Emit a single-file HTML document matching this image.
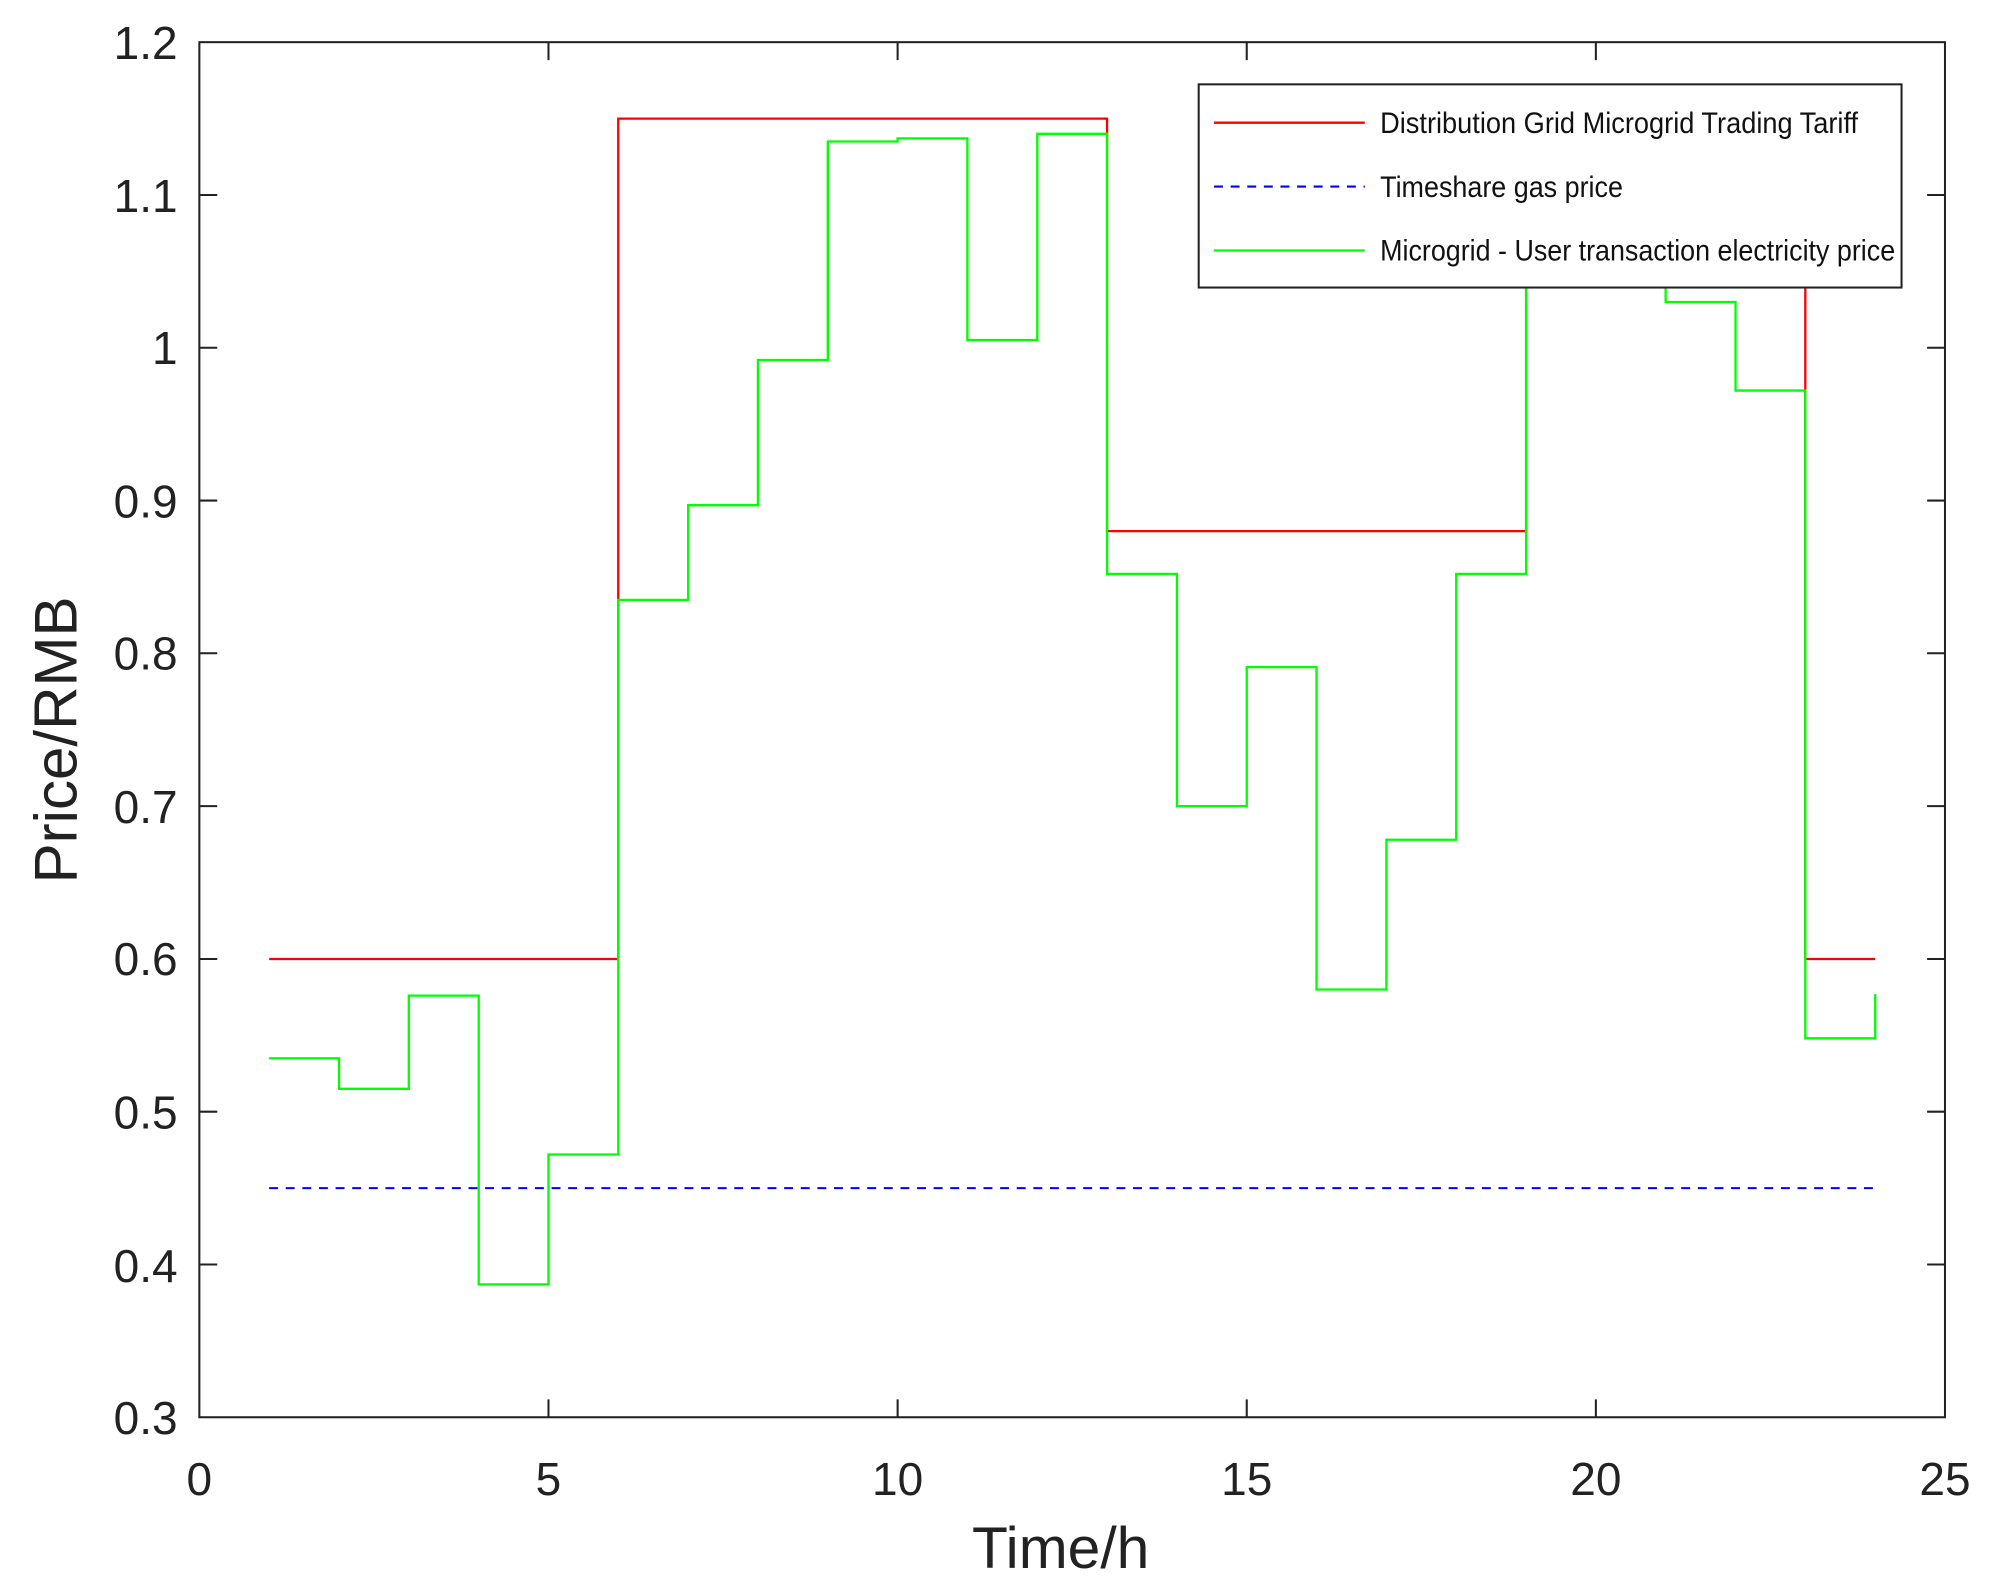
<!DOCTYPE html>
<html><head><meta charset="utf-8"><style>html,body{margin:0;padding:0;background:#fff}svg{display:block}</style></head>
<body>
<svg width="1991" height="1583" viewBox="0 0 1558 1238.7" preserveAspectRatio="none" xmlns="http://www.w3.org/2000/svg" font-family="Liberation Sans, Arial, sans-serif">
<rect width="1558" height="1239" fill="#fff"/>
<line x1="210.6" y1="929.7" x2="1467.4" y2="929.7" stroke="#0000ff" stroke-width="1.6" stroke-dasharray="7,6"/>
<polyline fill="none" stroke="#ff0000" stroke-width="1.8" points="210.6,750.4 483.8,750.4 483.8,92.8 866.3,92.8 866.3,415.6 1194.2,415.6 1194.2,92.8 1412.7,92.8 1412.7,750.4 1467.4,750.4"/>
<polyline fill="none" stroke="#00ff00" stroke-width="1.8" points="210.6,828.1 265.3,828.1 265.3,852 319.9,852 319.9,779.1 374.6,779.1 374.6,1005 429.2,1005 429.2,903.4 483.8,903.4 483.8,469.4 538.5,469.4 538.5,395.3 593.1,395.3 593.1,281.7 647.8,281.7 647.8,110.7 702.4,110.7 702.4,108.3 757,108.3 757,266.1 811.7,266.1 811.7,104.7 866.3,104.7 866.3,449.1 921,449.1 921,630.8 975.6,630.8 975.6,522 1030.2,522 1030.2,774.3 1084.9,774.3 1084.9,657.1 1139.5,657.1 1139.5,449.1 1194.2,449.1 1194.2,176.5 1303.4,176.5 1303.4,236.3 1358.1,236.3 1358.1,305.6 1412.7,305.6 1412.7,812.5 1467.4,812.5 1467.4,777.9"/>
<g stroke="#222" stroke-width="1.6" fill="none">
<rect x="156" y="33" width="1366" height="1076"/>
<path d="M156,152.6h14M156,272.1h14M156,391.7h14M156,511.2h14M156,630.8h14M156,750.4h14M156,869.9h14M156,989.5h14
M1522,152.6h-14M1522,272.1h-14M1522,391.7h-14M1522,511.2h-14M1522,630.8h-14M1522,750.4h-14M1522,869.9h-14M1522,989.5h-14
M429.2,1109v-14M702.4,1109v-14M975.6,1109v-14M1248.8,1109v-14
M429.2,33v14M702.4,33v14M975.6,33v14M1248.8,33v14"/>
</g>
<g font-size="36" fill="#222" text-anchor="end">
<text x="139" y="46">1.2</text><text x="139" y="166">1.1</text><text x="139" y="285">1</text>
<text x="139" y="405">0.9</text><text x="139" y="524">0.8</text><text x="139" y="644">0.7</text>
<text x="139" y="763">0.6</text><text x="139" y="883">0.5</text><text x="139" y="1003">0.4</text><text x="139" y="1122">0.3</text>
</g>
<g font-size="36" fill="#222" text-anchor="middle">
<text x="156" y="1170">0</text><text x="429.2" y="1170">5</text><text x="702.4" y="1170">10</text>
<text x="975.6" y="1170">15</text><text x="1248.8" y="1170">20</text><text x="1522" y="1170">25</text>
</g>
<text x="830" y="1227" font-size="46" fill="#222" text-anchor="middle">Time/h</text>
<text transform="translate(60,579) rotate(-90)" font-size="47" fill="#222" text-anchor="middle">Price/RMB</text>
<rect x="938" y="66" width="550" height="159" fill="#fff" stroke="#222" stroke-width="1.6"/>
<line x1="950" y1="96" x2="1068" y2="96" stroke="#ff0000" stroke-width="1.8"/>
<line x1="950" y1="146" x2="1068" y2="146" stroke="#0000ff" stroke-width="1.6" stroke-dasharray="7,6"/>
<line x1="950" y1="196" x2="1068" y2="196" stroke="#00ff00" stroke-width="1.8"/>
<g font-size="23" fill="#111">
<text x="1080" y="104" textLength="374" lengthAdjust="spacingAndGlyphs">Distribution Grid Microgrid Trading Tariff</text>
<text x="1080" y="154" textLength="190" lengthAdjust="spacingAndGlyphs">Timeshare gas price</text>
<text x="1080" y="204" textLength="403" lengthAdjust="spacingAndGlyphs">Microgrid - User transaction electricity price</text>
</g>
</svg>
</body></html>
